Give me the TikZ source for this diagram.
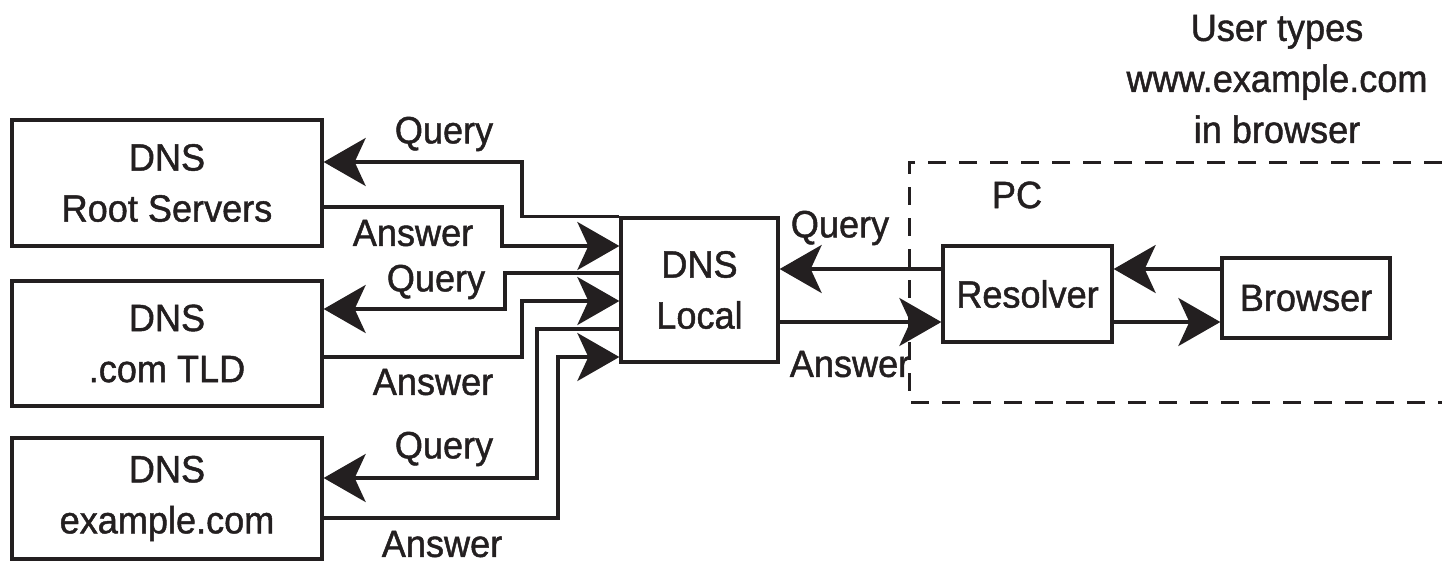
\documentclass[tikz,border=0pt]{standalone}
\usepackage{fontspec}
\setmainfont{Liberation Sans}[FakeStretch=0.95,FakeBold=1.2]
\usetikzlibrary{arrows.meta}
\definecolor{ink}{HTML}{231F20}
\begin{document}
\begin{tikzpicture}[x=1pt,y=-1pt,
  every node/.style={text=ink, font=\fontsize{38}{51}\selectfont},
  box/.style={draw=ink, line width=3.3pt, inner sep=0pt, align=center},
  lbl/.style={inner sep=0pt, anchor=center},
  conn/.style={draw=ink, line width=3.3pt, -{Stealth[length=42pt,width=48pt,inset=11pt]}},
  pcline/.style={draw=ink, line width=3pt, dash pattern=on 18pt off 13pt}]
\useasboundingbox (0,0) rectangle (1442,563);
% boxes
\node[box, minimum width=310pt, minimum height=126pt] (root) at (167,183) {DNS\\Root Servers};
\node[box, minimum width=310pt, minimum height=125pt] (com) at (167,343.5) {DNS\\.com TLD};
\node[box, minimum width=310pt, minimum height=121pt] (ex) at (167,498.5) {DNS\\example.com};
\node[box, minimum width=157pt, minimum height=144pt] (local) at (699.5,290) {DNS\\Local};
\node[box, minimum width=169pt, minimum height=96pt] (resolver) at (1027.5,294) {Resolver};
\node[box, minimum width=168pt, minimum height=80pt] (browser) at (1306,298) {Browser};
% PC dashed region
\coordinate (pctr) at (1442,162);
\coordinate (pctl) at (909,162);
\coordinate (pcbl) at (909,402);
\coordinate (pcbr) at (1442,402);
\draw[pcline] (pctr) -- (pctl) -- (pcbl) -- (pcbr);
% connectors to/from the servers
\draw[conn] (local.north west) -- (local.north west -| 522,0) |- (root.east |- 0,162);
\draw[conn] (root.east |- 0,207) -| (502,246) -- (local.west |- 0,246);
\draw[conn] (local.west |- 0,273) -| (505,309) -- (com.east |- 0,309);
\draw[conn] (com.east |- 0,357) -| (522,301) -- (local.west |- 0,301);
\draw[conn] (local.west |- 0,329) -| (537,478) -- (ex.east |- 0,478);
\draw[conn] (ex.east |- 0,518) -| (558,357) -- (local.west |- 0,357);
% local - resolver - browser
\draw[conn] (resolver.west |- 0,269) -- (local.east |- 0,269);
\draw[conn] (local.east |- 0,322) -- (resolver.west |- 0,322);
\draw[conn] (browser.west |- 0,269) -- (resolver.east |- 0,269);
\draw[conn] (resolver.east |- 0,322) -- (browser.west |- 0,322);
% labels
\node[lbl] (q1) at (444,134) {Query};
\node[lbl] (a1) at (413,233) {Answer};
\node[lbl] (q2) at (436,282) {Query};
\node[lbl] (a2) at (433,382) {Answer};
\node[lbl] (q3) at (444,449) {Query};
\node[lbl] (a3) at (442,544) {Answer};
\node[lbl] (q4) at (840,228) {Query};
\node[lbl] (a4) at (850,364) {Answer};
\node[lbl] (pc) at (1017,195) {PC};
\node[align=center, inner sep=0pt] (user) at (1277,79) {User types\\www.example.com\\in browser};
\end{tikzpicture}
\end{document}
